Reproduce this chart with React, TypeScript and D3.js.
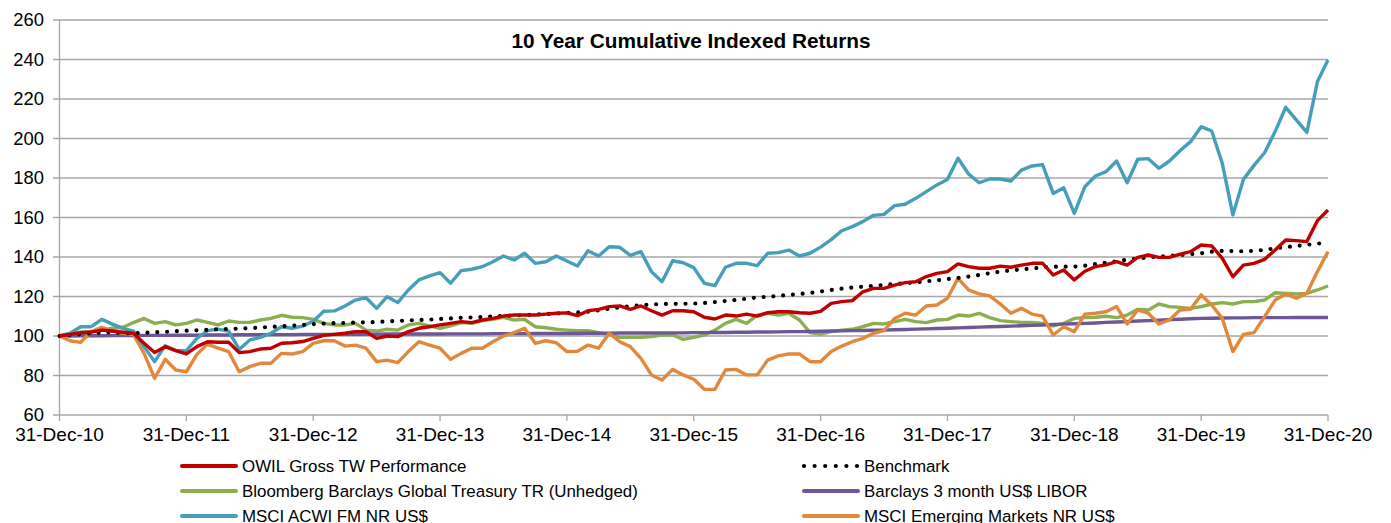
import React from "react";
import * as d3 from "d3";

const tickLabels = ["31-Dec-10","31-Dec-11","31-Dec-12","31-Dec-13","31-Dec-14","31-Dec-15","31-Dec-16","31-Dec-17","31-Dec-18","31-Dec-19","31-Dec-20"];
const yTicks = [60, 80, 100, 120, 140, 160, 180, 200, 220, 240, 260];

const owil = [100,100.8,101.7,102,103,102.5,101.9,101.4,96.3,91.6,94.6,92.6,90.9,94.6,97.1,96.8,96.8,91.6,92.1,93.4,93.8,96.3,96.6,97.2,98.8,100.3,100.8,101.4,102.2,102.2,98.8,100,99.7,102.2,103.9,104.7,105.6,106.4,107.3,106.8,108.1,108.9,110.1,110.6,110.6,110.6,111.1,111.5,111.7,110.3,112.8,113.5,114.9,115.2,113.5,115.2,112.8,110.6,112.8,112.8,112.3,109.5,108.6,110.6,110.1,111.1,110.1,111.8,112.3,112.3,111.8,111.5,112.5,116.5,117.4,117.9,122.4,124.1,124.1,125.8,127,127.5,130.1,131.7,132.6,136.5,135.1,134.3,134.3,135.4,134.8,135.9,136.8,136.8,130.9,133.4,128.4,132.8,135.1,136,137.6,135.9,139.8,141,139.8,139.8,141.5,142.7,146.1,145.6,139.3,130,135.9,136.8,138.8,143.5,148.6,148.3,147.8,158.4,163.8];

const benchmark = [100,100.5,100.9,101.4,101.8,101.9,101.5,101.4,101.6,101.9,102.1,102.4,102.7,102.9,103.1,103.4,103.6,103.7,104,104.3,104.6,104.9,105.2,105.6,106,106.3,106.5,106.6,106.8,106.9,107.1,107.4,107.6,107.9,108.1,108.3,108.6,108.9,109.2,109.4,109.6,109.9,110.2,110.4,110.6,110.9,111.1,111.4,111.7,111.9,112.3,113,113.8,114.5,115,115.6,116,116.2,116.3,116.3,116.4,116.7,117.2,117.7,118.2,118.9,119.5,119.9,120.3,120.8,121.3,121.8,122.5,123.3,124,124.5,125,125.4,125.8,126.3,126.7,127.2,127.7,128.2,128.8,129.4,130.1,130.9,131.8,132.6,133.2,133.7,134.2,134.7,135.1,135.1,135.1,135.6,136.4,137.1,137.9,138.6,139.2,139.8,140.2,140.6,141,141.5,141.9,142.7,143.1,143,142.9,143.1,143.6,144.4,145,145.6,146.2,146.7,147.5];

const treasury = [100,101,101.9,102.2,103,103.9,104.4,106.8,108.9,106.4,107.3,105.6,106.4,108.1,106.9,105.6,107.6,106.9,106.9,108.1,108.9,110.5,109.5,109.3,108.4,106.4,105.6,105.6,106.4,103,102.5,103.4,103,105.6,106.4,105.1,103.9,105.1,106.8,106.4,107.8,108.4,109.5,108.1,108.4,104.7,104.2,103.4,103,102.7,102.7,101.7,100.8,99.3,99.3,99.3,99.7,100.5,100.5,98.3,99.3,100.5,103,106.4,108.4,106.4,110.6,111.5,110.6,111.5,108.1,101.7,101,102.2,103,103.4,104.7,106.4,106.1,107.3,108.4,107.3,106.8,108.1,108.4,110.6,110.1,111.5,109.3,107.8,107.3,106.9,106.9,106.4,105.1,106.4,108.9,109.3,109.5,110,109.3,110.6,113.5,113.2,116.2,114.9,114.5,114,114.9,116.2,116.9,116.2,117.4,117.4,118.2,121.9,121.6,121.3,121.6,123.3,125.3];

const libor = [100,100,100.1,100.1,100.1,100.2,100.2,100.2,100.3,100.3,100.3,100.4,100.4,100.4,100.5,100.5,100.5,100.6,100.6,100.6,100.7,100.7,100.7,100.8,100.8,100.8,100.8,100.9,100.9,100.9,100.9,101,101,101,101,101,101,101.1,101.1,101.1,101.1,101.2,101.2,101.2,101.2,101.3,101.3,101.3,101.3,101.3,101.4,101.4,101.4,101.5,101.5,101.5,101.5,101.6,101.6,101.6,101.7,101.7,101.8,101.8,101.9,101.9,102,102,102.1,102.2,102.2,102.3,102.4,102.5,102.6,102.7,102.8,102.9,103,103.2,103.3,103.5,103.6,103.8,103.9,104.1,104.3,104.5,104.7,104.8,105,105.2,105.4,105.6,105.8,106,106.2,106.4,106.6,106.9,107.1,107.3,107.6,107.8,108,108.3,108.5,108.7,108.9,109,109.1,109.2,109.2,109.3,109.3,109.3,109.3,109.4,109.4,109.4,109.4];

const acwi = [100,101.4,104.7,104.7,108.4,106,103.9,102.5,94.6,87,95.1,92.6,92.6,98.8,102.7,103.5,102.5,93.2,98,99.3,101.4,104.7,103.9,105,107.5,112.5,112.7,115.2,118.2,119.4,114,119.9,116.9,123.3,128.4,130.4,132.1,126.7,133.1,133.8,135.1,137.6,140.5,138.5,141.9,136.8,137.6,140.5,138,135.4,143.2,140.5,145.2,144.9,140.8,142.7,132.6,127.5,138.1,137.1,134.6,126.7,125.5,134.8,136.8,136.8,135.6,141.9,142.2,143.5,140.5,141.9,145,148.8,153.3,155.4,157.9,161.1,161.6,166,166.7,169.7,173.1,176.5,179.3,190,182,177.6,179.5,179.5,178.5,184,186.1,186.8,172.2,175.1,162.1,175.6,181,183.2,188.6,177.6,189.5,189.8,184.9,188.6,193.8,198.4,206,203.8,187.4,161.3,179.3,186.4,192.8,203.5,215.8,209.4,203.1,228.8,239.7];

const em = [100,97.6,96.8,102.2,104.4,102.5,101.4,100.8,91.2,78.6,88.2,82.8,81.9,90.7,95.9,93.8,92.1,81.9,84.5,86.2,86.2,91.2,90.9,92.1,96.3,97.6,97.6,94.9,95.4,93.8,87,87.8,86.5,92.1,97.1,95.4,93.8,88.2,91.2,93.8,93.8,97.1,100,101.7,103.9,96.3,97.6,96.6,92.1,92.3,95.4,93.8,101.4,97.1,94.6,88.7,80.3,77.7,83.1,80.3,78.1,73,73,82.8,83.1,80.3,80.3,87.8,89.9,90.9,90.9,87,87,92.1,94.9,97.1,98.8,101.4,102.7,108.9,111.5,110.6,115.2,115.7,119.1,129.2,123.3,121.3,120.3,116.2,111.5,114,111.1,110.1,100.5,104.7,102.2,111.1,111.5,112.3,114.9,106.1,113.2,111.5,106.1,108.1,113.2,113.5,120.8,115.7,108.9,92.1,100.8,101.7,109.8,118.2,121.3,119.1,121.6,132.6,142.7];

const seriesNames = ["OWIL Gross TW Performance","Benchmark","Bloomberg Barclays Global Treasury TR (Unhedged)","Barclays 3 month US$ LIBOR","MSCI ACWI FM NR US$","MSCI Emerging Markets NR US$"];

const W = 1391, H = 523;
const FONT = "'Liberation Sans', Arial, sans-serif";

export default function App() {
  const x = d3.scaleLinear().domain([0, 120]).range([59.5, 1328]);
  const y = d3.scaleLinear().domain([60, 260]).range([415, 20]);
  const line = d3.line<number>().x((_, i) => x(i)).y((d) => y(d)).curve(d3.curveLinear);

  const series = [
    { name: seriesNames[2], data: treasury, color: "#8BAE4F", dash: null },
    { name: seriesNames[3], data: libor, color: "#6E5796", dash: null },
    { name: seriesNames[5], data: em, color: "#E2883C", dash: null },
    { name: seriesNames[4], data: acwi, color: "#459FB9", dash: null },
    { name: seriesNames[1], data: benchmark, color: "#000000", dash: "0 9.8" },
    { name: seriesNames[0], data: owil, color: "#C00000", dash: null },
  ];

  const legend = [
    { name: seriesNames[0], color: "#C00000", dash: null, col: 0, row: 0 },
    { name: seriesNames[2], color: "#8BAE4F", dash: null, col: 0, row: 1 },
    { name: seriesNames[4], color: "#459FB9", dash: null, col: 0, row: 2 },
    { name: seriesNames[1], color: "#000000", dash: "0 10.6", col: 1, row: 0 },
    { name: seriesNames[3], color: "#6E5796", dash: null, col: 1, row: 1 },
    { name: seriesNames[5], color: "#E2883C", dash: null, col: 1, row: 2 },
  ];
  const colX = [182, 804];

  return (
    <svg width={W} height={H} style={{ position: "absolute", left: 0, top: 0, background: "#fff" }} fontFamily={FONT}>
      <rect x={0} y={0} width={W} height={H} fill="#fff" />
      {yTicks.map((t) => (
        <g key={t}>
          <line x1={53} x2={1328} y1={y(t)} y2={y(t)} stroke="#A6A6A6" strokeWidth={1.3} />
          <text x={44} y={y(t)} dy="0.35em" textAnchor="end" fontSize={18.4} fill="#000">{t}</text>
        </g>
      ))}
      <line x1={x(0)} x2={x(0)} y1={y(260)} y2={y(60)} stroke="#A6A6A6" strokeWidth={1.3} />
      {tickLabels.map((lab, i) => (
        <g key={lab}>
          <line x1={x(i * 12)} x2={x(i * 12)} y1={y(60)} y2={y(60) + 6} stroke="#A6A6A6" strokeWidth={1.3} />
          <text x={x(i * 12)} y={441} textAnchor="middle" fontSize={19} fill="#000">{lab}</text>
        </g>
      ))}
      <text x={691} y={48} textAnchor="middle" fontSize={20.8} fontWeight="bold" fill="#000">10 Year Cumulative Indexed Returns</text>
      {series.map((s) => (
        <path key={s.name} d={line(s.data) || ""} fill="none" stroke={s.color}
          strokeWidth={s.dash ? 4.2 : 3.4} strokeLinejoin="round"
          strokeLinecap={s.dash ? "round" : "butt"} strokeDasharray={s.dash || undefined} />
      ))}
      {legend.map((l) => {
        const lx = colX[l.col];
        const ly = 466 + l.row * 25;
        return (
          <g key={l.name}>
            <line x1={lx} x2={lx + 54} y1={ly} y2={ly} stroke={l.color} strokeWidth={l.dash ? 4.2 : 4}
              strokeLinecap="round" strokeDasharray={l.dash || undefined} />
            <text x={lx + 60} y={ly + 5.5} fontSize={16.9} fill="#000">{l.name}</text>
          </g>
        );
      })}
    </svg>
  );
}
